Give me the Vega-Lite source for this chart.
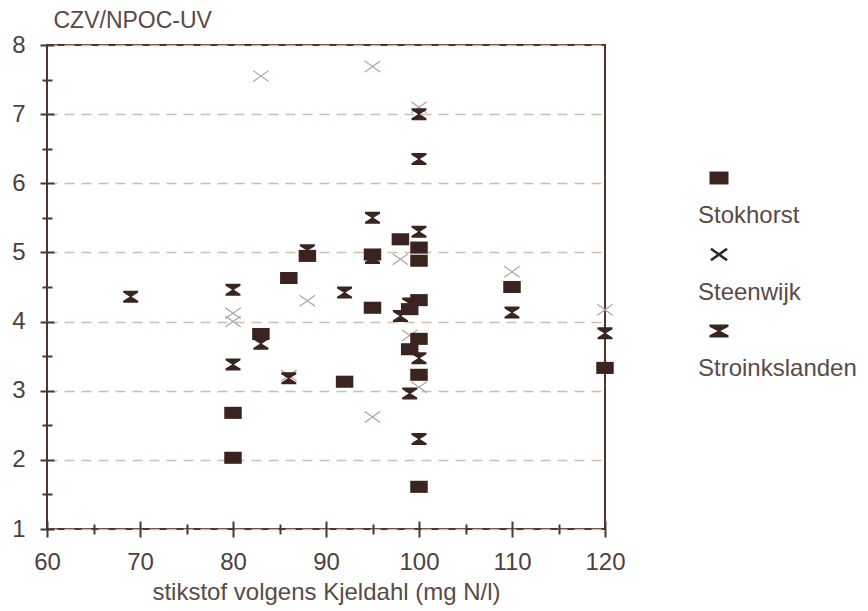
{
  "$schema": "https://vega.github.io/schema/vega-lite/v6.json",
  "background": "white",
  "padding": {"left": 10, "top": 8, "right": 0, "bottom": 0},
  "bounds": "flush",
  "spacing": 94,
  "config": {
    "font": "Liberation Sans",
    "view": {"stroke": "#4d3530", "strokeWidth": 2}
  },
  "datasets": {
    "metingen": [
      {"locatie": "Stokhorst", "n": 80, "czv": 2.03},
      {"locatie": "Stokhorst", "n": 80, "czv": 2.68},
      {"locatie": "Stokhorst", "n": 83, "czv": 3.82},
      {"locatie": "Stokhorst", "n": 86, "czv": 4.63},
      {"locatie": "Stokhorst", "n": 88, "czv": 4.95},
      {"locatie": "Stokhorst", "n": 92, "czv": 3.13},
      {"locatie": "Stokhorst", "n": 95, "czv": 4.97},
      {"locatie": "Stokhorst", "n": 95, "czv": 4.2},
      {"locatie": "Stokhorst", "n": 98, "czv": 5.19},
      {"locatie": "Stokhorst", "n": 99, "czv": 4.18},
      {"locatie": "Stokhorst", "n": 99, "czv": 3.6},
      {"locatie": "Stokhorst", "n": 100, "czv": 5.07},
      {"locatie": "Stokhorst", "n": 100, "czv": 4.88},
      {"locatie": "Stokhorst", "n": 100, "czv": 4.31},
      {"locatie": "Stokhorst", "n": 100, "czv": 3.75},
      {"locatie": "Stokhorst", "n": 100, "czv": 3.23},
      {"locatie": "Stokhorst", "n": 100, "czv": 1.61},
      {"locatie": "Stokhorst", "n": 110, "czv": 4.5},
      {"locatie": "Stokhorst", "n": 120, "czv": 3.33},
      {"locatie": "Steenwijk", "n": 83, "czv": 7.55},
      {"locatie": "Steenwijk", "n": 95, "czv": 7.69},
      {"locatie": "Steenwijk", "n": 100, "czv": 7.1},
      {"locatie": "Steenwijk", "n": 80, "czv": 4.12},
      {"locatie": "Steenwijk", "n": 80, "czv": 4.0},
      {"locatie": "Steenwijk", "n": 88, "czv": 4.3},
      {"locatie": "Steenwijk", "n": 98, "czv": 4.9},
      {"locatie": "Steenwijk", "n": 110, "czv": 4.72},
      {"locatie": "Steenwijk", "n": 120, "czv": 4.17},
      {"locatie": "Steenwijk", "n": 95, "czv": 2.62},
      {"locatie": "Steenwijk", "n": 99, "czv": 3.8},
      {"locatie": "Steenwijk", "n": 100, "czv": 3.05},
      {"locatie": "Steenwijk", "n": 86, "czv": 3.22},
      {"locatie": "Stroinkslanden", "n": 69, "czv": 4.36},
      {"locatie": "Stroinkslanden", "n": 80, "czv": 4.46},
      {"locatie": "Stroinkslanden", "n": 80, "czv": 3.38},
      {"locatie": "Stroinkslanden", "n": 83, "czv": 3.68},
      {"locatie": "Stroinkslanden", "n": 86, "czv": 3.18},
      {"locatie": "Stroinkslanden", "n": 88, "czv": 5.03},
      {"locatie": "Stroinkslanden", "n": 92, "czv": 4.42},
      {"locatie": "Stroinkslanden", "n": 95, "czv": 5.5},
      {"locatie": "Stroinkslanden", "n": 95, "czv": 4.92},
      {"locatie": "Stroinkslanden", "n": 98, "czv": 4.08},
      {"locatie": "Stroinkslanden", "n": 99, "czv": 4.26},
      {"locatie": "Stroinkslanden", "n": 99, "czv": 2.96},
      {"locatie": "Stroinkslanden", "n": 100, "czv": 7.0},
      {"locatie": "Stroinkslanden", "n": 100, "czv": 6.35},
      {"locatie": "Stroinkslanden", "n": 100, "czv": 5.3},
      {"locatie": "Stroinkslanden", "n": 100, "czv": 3.47},
      {"locatie": "Stroinkslanden", "n": 100, "czv": 2.3},
      {"locatie": "Stroinkslanden", "n": 110, "czv": 4.13},
      {"locatie": "Stroinkslanden", "n": 120, "czv": 3.83}
    ],
    "legenda": [
      {"locatie": "Stokhorst"},
      {"locatie": "Steenwijk"},
      {"locatie": "Stroinkslanden"}
    ]
  },
  "hconcat": [
    {
      "width": 558,
      "height": 484,
      "data": {"name": "metingen"},
      "resolve": {"axis": {"x": "independent", "y": "independent"}},
      "layer": [
        {
          "transform": [{"filter": "datum.locatie === 'Steenwijk'"}],
          "mark": {
            "type": "point",
            "shape": "M-1,-0.71L1,0.71M-1,0.71L1,-0.71",
            "size": 240,
            "filled": false,
            "stroke": "#aea4a0",
            "strokeWidth": 1.2,
            "opacity": 1
          },
          "encoding": {
            "x": {
              "field": "n", "type": "quantitative",
              "scale": {"domain": [60, 120], "nice": false, "zero": false},
              "axis": {
                "orient": "bottom",
                "values": [60, 70, 80, 90, 100, 110, 120],
                "domain": false,
                "grid": false,
                "offset": -8,
                "tickSize": 16,
                "tickWidth": 2,
                "tickColor": "#4d3530",
                "labelFlush": false,
                "labelPadding": 13,
                "labelFontSize": 24,
                "labelColor": "#4e403c",
                "title": "stikstof volgens Kjeldahl (mg N/l)",
                "titleFontSize": 24,
                "titleFontWeight": "normal",
                "titleColor": "#5a4a45",
                "titlePadding": 6
              }
            },
            "y": {
              "field": "czv", "type": "quantitative",
              "scale": {"domain": [1, 8], "nice": false, "zero": false},
              "axis": {
                "orient": "left",
                "values": [1, 2, 3, 4, 5, 6, 7, 8],
                "domain": false,
                "grid": true,
                "gridColor": "#cbc0b0",
                "gridDash": [10, 7],
                "gridWidth": 1.5,
                "offset": -7,
                "tickSize": 14,
                "tickWidth": 2,
                "tickColor": "#4d3530",
                "labelFlush": false,
                "labelPadding": 15,
                "labelFontSize": 24,
                "labelColor": "#4e403c",
                "title": "CZV/NPOC-UV",
                "titleAngle": 0,
                "titleAlign": "left",
                "titleBaseline": "alphabetic",
                "titleX": -1,
                "titleY": -18,
                "titleFontSize": 23,
                "titleFontWeight": "normal",
                "titleColor": "#5a4a45"
              }
            }
          }
        },
        {
          "transform": [{"filter": "datum.locatie === 'Stokhorst'"}],
          "mark": {
            "type": "point",
            "shape": "M-1,-0.69H1V0.69H-1Z",
            "size": 306,
            "filled": true,
            "fill": "#3b2320",
            "opacity": 1
          },
          "encoding": {
            "x": {
              "field": "n", "type": "quantitative",
              "axis": {
                "orient": "bottom",
                "values": [65, 75, 85, 95, 105, 115],
                "domain": false,
                "grid": false,
                "labels": false,
                "title": null,
                "offset": -5,
                "tickSize": 10,
                "tickWidth": 2,
                "tickColor": "#4d3530"
              }
            },
            "y": {
              "field": "czv", "type": "quantitative",
              "axis": {
                "orient": "left",
                "values": [1.5, 2.5, 3.5, 4.5, 5.5, 6.5, 7.5],
                "domain": false,
                "grid": false,
                "labels": false,
                "title": null,
                "offset": -5,
                "tickSize": 10,
                "tickWidth": 2,
                "tickColor": "#4d3530"
              }
            }
          }
        },
        {
          "transform": [{"filter": "datum.locatie === 'Stroinkslanden'"}],
          "mark": {
            "type": "point",
            "shape": "M-1,-0.8L1,-0.8L1,-0.55L0.12,0L1,0.55L1,0.8L-1,0.8L-1,0.55L-0.12,0L-1,-0.55Z",
            "size": 225,
            "filled": true,
            "fill": "#3b2320",
            "opacity": 1
          },
          "encoding": {
            "x": {"field": "n", "type": "quantitative", "axis": null},
            "y": {"field": "czv", "type": "quantitative", "axis": null}
          }
        }
      ]
    },
    {
      "width": 40,
      "height": 484,
      "view": {"stroke": null},
      "data": {"name": "legenda"},
      "encoding": {
        "y": {
          "field": "locatie", "type": "nominal",
          "scale": {"type": "point", "padding": 0, "domain": ["Stokhorst", "Steenwijk", "Stroinkslanden"], "range": [133, 286]},
          "axis": null
        }
      },
      "layer": [
        {
          "mark": {"type": "point", "size": 361, "strokeWidth": 2.6, "opacity": 1},
          "encoding": {
            "shape": {
              "field": "locatie", "type": "nominal", "legend": null,
              "scale": {
                "domain": ["Stokhorst", "Steenwijk", "Stroinkslanden"],
                "range": ["M-1,-0.68H1V0.68H-1Z", "M-0.85,-0.6L0.85,0.6M-0.85,0.6L0.85,-0.6", "M-1,-0.68L1,-0.68L1,-0.45L0.15,0L1,0.45L1,0.68L-1,0.68L-1,0.45L-0.15,0L-1,-0.45Z"]
              }
            },
            "fill": {
              "field": "locatie", "type": "nominal", "legend": null,
              "scale": {"domain": ["Stokhorst", "Steenwijk", "Stroinkslanden"], "range": ["#3b2320", "transparent", "#3b2320"]}
            },
            "stroke": {
              "field": "locatie", "type": "nominal", "legend": null,
              "scale": {"domain": ["Stokhorst", "Steenwijk", "Stroinkslanden"], "range": ["transparent", "#3b2320", "transparent"]}
            }
          }
        },
        {
          "mark": {"type": "text", "align": "left", "baseline": "middle", "dx": -21, "dy": 38, "fontSize": 24, "fill": "#5a4a45"},
          "encoding": {"text": {"field": "locatie", "type": "nominal"}}
        }
      ]
    }
  ]
}
